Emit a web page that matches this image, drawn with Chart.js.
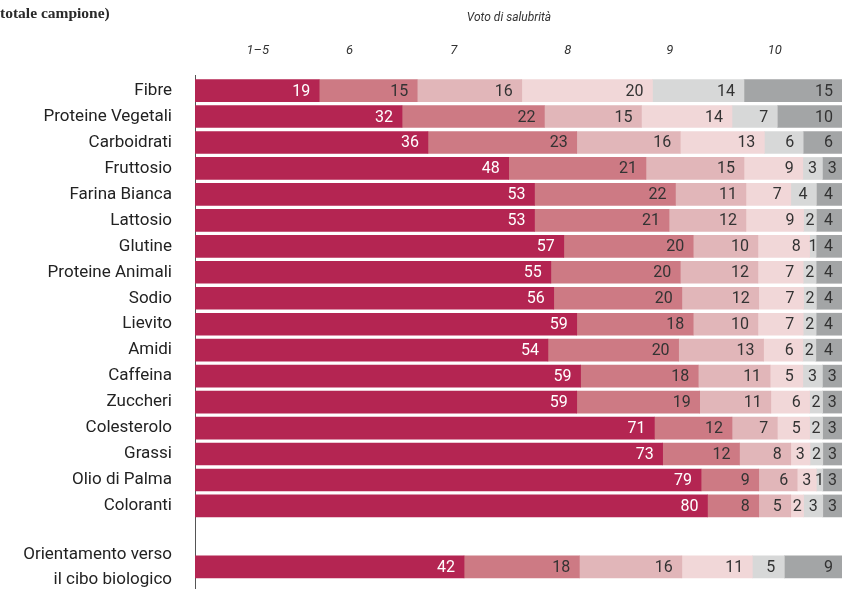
<!DOCTYPE html>
<html>
<head>
<meta charset="utf-8">
<script src="https://cdn.jsdelivr.net/npm/chart.js@4.4.1/dist/chart.umd.min.js"></script>
<style>
  html, body { margin: 0; padding: 0; background: #fff; overflow: hidden; }
  .wrap { position: relative; width: 843px; height: 589px; }
  .title { position: absolute; left: 0; top: 4px; font: bold 15.5px "Liberation Serif", serif; color: #2a2a2a; white-space: nowrap; }
  .subtitle { position: absolute; left: 409px; width: 200px; top: 10px; text-align: center; font: italic 12px Roboto, sans-serif; color: #333; }
  canvas { position: absolute; left: 0; top: 0; }
</style>
</head>
<body>
<div class="wrap">
  <canvas id="chart" width="843" height="589"></canvas>
  <div class="title">totale campione)</div>
  <div class="subtitle">Voto di salubrità</div>
</div>
<script>
// Categories, top to bottom.
var categories = [
  'Fibre', 'Proteine Vegetali', 'Carboidrati', 'Fruttosio', 'Farina Bianca',
  'Lattosio', 'Glutine', 'Proteine Animali', 'Sodio', 'Lievito', 'Amidi',
  'Caffeina', 'Zuccheri', 'Colesterolo', 'Grassi', 'Olio di Palma', 'Coloranti',
  ['Orientamento verso', 'il cibo biologico']
];

// Share of answers (%) for each health score.
var voto1_5 = [19, 32, 36, 48, 53, 53, 57, 55, 56, 59, 54, 59, 59, 71, 73, 79, 80, 42];
var voto6   = [15, 22, 23, 21, 22, 21, 20, 20, 20, 18, 20, 18, 19, 12, 12, 9, 8, 18];
var voto7   = [16, 15, 16, 15, 11, 12, 10, 12, 12, 10, 13, 11, 11, 7, 8, 6, 5, 16];
var voto8   = [20, 14, 13, 9, 7, 9, 8, 7, 7, 7, 6, 5, 6, 5, 3, 3, 2, 11];
var voto9   = [14, 7, 6, 3, 4, 2, 1, 2, 2, 2, 2, 3, 2, 2, 2, 1, 3, 5];
var voto10  = [15, 10, 6, 3, 4, 4, 4, 4, 4, 4, 4, 3, 3, 3, 3, 3, 3, 9];

// Column headers along the top.
var headerLabels = ['1–5', '6', '7', '8', '9', '10'];

(function () {
  var colors = ['#b42552', '#cd7a84', '#e1b6b9', '#f1d7d8', '#d7d8d8', '#a3a5a6'];
  var series = [voto1_5, voto6, voto7, voto8, voto9, voto10];

  // Rounded shares don't always add up to 100: scale each row to a full bar.
  var rowTotals = categories.map(function (c, i) {
    return series.reduce(function (sum, values) { return sum + values[i]; }, 0);
  });

  // Extra space before the last (summary) row.
  var summaryGap = 1.35;
  var rowPos = categories.map(function (c, i) {
    return i === categories.length - 1 ? i + summaryGap : i;
  });
  // Where the header labels sit on the 0-100 scale.
  var headerPos = [9.7, 23.9, 40.0, 57.6, 73.4, 89.6];

  var datasets = series.map(function (values, s) {
    return {
      label: headerLabels[s],
      raw: values,
      data: values.map(function (v, i) {
        return { x: v * 100 / rowTotals[i], y: rowPos[i] };
      }),
      backgroundColor: colors[s],
      borderWidth: 0,
      barThickness: 22
    };
  });

  // Value labels inside each segment.
  var valueLabels = {
    id: 'valueLabels',
    afterDatasetsDraw: function (chart) {
      var ctx = chart.ctx;
      var area = chart.chartArea;
      ctx.save();
      ctx.font = '16px Roboto';
      ctx.textBaseline = 'middle';
      chart.data.datasets.forEach(function (ds, i) {
        var meta = chart.getDatasetMeta(i);
        meta.data.forEach(function (bar, j) {
          var text = String(ds.raw[j]);
          var left = Math.min(bar.base, bar.x);
          var right = Math.min(Math.max(bar.base, bar.x), area.right);
          var w = ctx.measureText(text).width;
          ctx.fillStyle = i === 0 ? '#ffffff' : '#333333';
          if (right - left >= w + 16) {
            ctx.textAlign = 'right';
            ctx.fillText(text, right - 9, bar.y + 1);
          }
          else {
            ctx.textAlign = 'center';
            ctx.fillText(text, (left + right) / 2, bar.y + 1);
          }
        });
      });
      ctx.restore();
    }
  };

  new Chart(document.getElementById('chart'), {
    type: 'bar',
    data: { datasets: datasets },
    plugins: [valueLabels],
    options: {
      indexAxis: 'y',
      responsive: false,
      animation: false,
      devicePixelRatio: 1,
      layout: { padding: { left: 0, right: 1, top: 0, bottom: 0 } },
      plugins: {
        legend: { display: false },
        tooltip: { enabled: false }
      },
      scales: {
        x: {
          type: 'linear',
          stacked: true,
          min: 0,
          max: 100,
          display: false
        },
        x2: {
          type: 'linear',
          position: 'top',
          min: 0,
          max: 100,
          grid: { display: false, drawTicks: false },
          border: { display: false },
          afterBuildTicks: function (scale) {
            scale.ticks = headerPos.map(function (v) { return { value: v }; });
          },
          afterFit: function (scale) {
            scale.height = 75;
            scale.paddingLeft = 0;
            scale.paddingRight = 0;
          },
          ticks: {
            autoSkip: false,
            maxRotation: 0,
            padding: 16,
            color: '#333',
            font: { family: 'Roboto', size: 13, style: 'italic' },
            callback: function (value, index) {
              return headerLabels[index];
            }
          }
        },
        y: {
          type: 'linear',
          stacked: true,
          reverse: true,
          offset: false,
          min: -0.6,
          max: 19.2,
          grid: { display: false, drawTicks: false, offset: false },
          border: { display: true, color: '#555', width: 1 },
          afterBuildTicks: function (scale) {
            scale.ticks = rowPos.map(function (v) { return { value: v }; });
          },
          afterFit: function (scale) {
            scale.width = 195;
            // Let the long bottom label run past the plot area.
            scale.paddingTop = 0;
            scale.paddingBottom = 0;
          },
          ticks: {
            autoSkip: false,
            padding: 23,
            color: '#222',
            font: { family: 'Roboto', size: 17, lineHeight: 1.45 },
            callback: function (value, index) {
              return categories[index];
            }
          }
        }
      }
    }
  });
}());
</script>
</body>
</html>
